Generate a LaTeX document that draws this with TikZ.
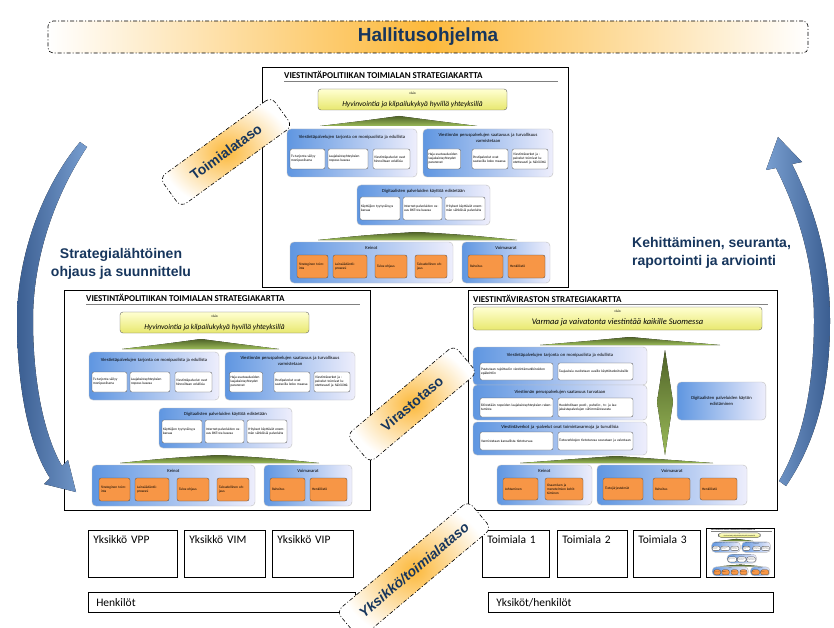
\documentclass[tikz,border=0pt]{standalone}
\usepackage{fontspec}
\setmainfont{Carlito}
\newfontfamily\arialfont{Liberation Sans}
\usetikzlibrary{shapes,arrows,positioning,fit,backgrounds}

\definecolor{tummasininen}{RGB}{23,54,93}
\definecolor{hehku}{RGB}{252,185,60}
\definecolor{oranssi}{RGB}{247,150,70}
\definecolor{keltainen}{RGB}{232,232,110}
\definecolor{vaaleankeltainen}{RGB}{255,255,210}
\definecolor{paneelisininen}{RGB}{95,150,225}
\definecolor{vaaleasininen}{RGB}{238,238,252}
\definecolor{oliivi}{RGB}{79,98,40}
\definecolor{vaaleaoliivi}{RGB}{155,187,89}
\definecolor{nuolitumma}{RGB}{59,94,145}
\definecolor{nuolivaalea}{RGB}{120,158,208}

\newcommand{\pien}{\fontsize{3.5}{4}\selectfont}
\newcommand{\keski}{\fontsize{4.6}{5.3}\selectfont}
\newcommand{\otsikkofont}{\fontsize{9}{10}\selectfont\bfseries}

% Toimialan strategiakartta nykyiseen origoon
\newcommand{\toimialakartta}[1]{%
  % Kehys ja otsikko
  \node[kehys, minimum width=306pt, minimum height=220pt] (#1_kehys) at (153,110) {};
  \node[otsikko] (#1_otsikko) at (22,8) {VIESTINTÄPOLITIIKAN TOIMIALAN STRATEGIAKARTTA};
  \coordinate (#1_viiva_a) at (22,14);
  \coordinate (#1_viiva_b) at (296,14);
  \draw[viiva] (#1_viiva_a) -- (#1_viiva_b);
  % Visio
  \node[visio, minimum width=189pt, minimum height=21pt] (#1_visio) at (150.5,32.5)
    {{\pien visio}\\{\fontsize{7.5}{8.5}\selectfont\itshape Hyvinvointia ja kilpailukykyä hyvillä yhteyksillä}};
  \fill[kolmio] (58,59) .. controls (100,54) .. (137,49) .. controls (175,54) .. (215,59) -- cycle;
  % Tavoitteet
  \node[paneeli, minimum width=130pt, minimum height=48pt] (#1_tarjonta) at (90,86) {};
  \node[paneeliotsikko] (#1_tarjonta_otsikko) at (90,70) {Viestintäpalvelujen tarjonta on monipuolista ja edullista};
  \node[ala, minimum height=20pt, text width=33pt] (#1_tv) at (45.5,92) {Tv-tarjonta säilyy monipuolisena};
  \node[ala, minimum height=20pt, text width=38pt] (#1_nopeus) at (86,92) {Laajakaistayhteyksien nopeus kasvaa};
  \node[ala, minimum height=20pt, text width=35pt] (#1_hinnat) at (129.5,92) {Viestintäpalvelut ovat hinnoiltaan edullisia};
  \node[paneeli, minimum width=130pt, minimum height=48pt] (#1_saatavuus) at (226,86) {};
  \node[paneeliotsikko, text width=128pt] (#1_saatavuus_otsikko) at (226,71) {Viestinnän peruspalvelujen saatavuus ja turvallisuus\\varmistetaan};
  \node[ala, minimum height=20pt, text width=31pt] (#1_haja) at (182,92) {Haja-asutusalueiden laajakaistayhteydet paranevat};
  \node[ala, minimum height=20pt, text width=34pt] (#1_posti) at (228,92) {Postipalvelut ovat saatavilla koko maassa};
  \node[ala, minimum height=20pt, text width=34pt] (#1_verkot) at (268,92) {Viestintäverkot ja -palvelut toimivat luotettavasti ja häiriöittä};
  \node[paneeli, minimum width=133pt, minimum height=40pt] (#1_digi) at (161.5,138) {};
  \node[paneeliotsikko] (#1_digi_otsikko) at (161.5,124) {Digitaalisten palveluiden käyttöä edistetään};
  \node[ala, minimum height=23pt, text width=38pt] (#1_kayttajat) at (118,141.5) {Käyttäjien tyytyväisyys kasvaa};
  \node[ala, minimum height=23pt, text width=37pt] (#1_internet) at (160.5,141.5) {Internet-palveluiden osuus BKT:sta kasvaa};
  \node[ala, minimum height=23pt, text width=38pt] (#1_yritykset) at (203,141.5) {Yritykset käyttävät enemmän sähköisiä palveluita};
  \fill[kolmio] (56,173) .. controls (105,168) .. (155,165) .. controls (205,168) .. (255,173) -- cycle;
  % Keinot ja voimavarat
  \node[paneeli, minimum width=163pt, minimum height=41pt] (#1_keinot) at (109.5,195.5) {};
  \node[paneeliotsikko] (#1_keinot_otsikko) at (109.5,181) {Keinot};
  \node[keino, minimum height=23pt, text width=27pt] (#1_strateginen) at (50.5,199.5) {Strateginen toiminta};
  \node[keino, minimum height=23pt, text width=30pt] (#1_laki) at (88,199.5) {Lainsäädäntö-prosessi};
  \node[keino, minimum height=23pt, text width=28pt] (#1_tulos) at (129,199.5) {Tulos-ohjaus};
  \node[keino, minimum height=23pt, text width=28pt] (#1_talous) at (169,199.5) {Taloudellinen ohjaus};
  \node[paneeli, minimum width=88pt, minimum height=41pt] (#1_voimavarat) at (244,195.5) {};
  \node[paneeliotsikko] (#1_voimavarat_otsikko) at (244,181) {Voimavarat};
  \node[keino, minimum height=23pt, text width=31pt] (#1_rahoitus) at (223.5,199.5) {Rahoitus};
  \node[keino, minimum height=23pt, text width=33pt] (#1_henkilosto) at (264.5,199.5) {Henkilöstö};
}

\begin{document}
\begin{tikzpicture}[
    x=1pt, y=-1pt,
    kehys/.style={draw=black, fill=white, line width=0.6pt},
    otsikko/.style={anchor=west, inner sep=0pt, font=\otsikkofont},
    viiva/.style={draw=gray, line width=0.4pt},
    visio/.style={draw=black!60, rounded corners=3pt, top color=vaaleankeltainen, bottom color=keltainen, align=center, inner sep=1pt},
    kolmio/.style={top color=oliivi, bottom color=vaaleaoliivi},
    paneeli/.style={draw=gray!50, rounded corners=4pt, left color=paneelisininen, right color=vaaleasininen},
    paneeliotsikko/.style={font=\keski, align=center, text width=125pt, inner sep=0pt},
    ala/.style={draw=gray!60!black, fill=white, rounded corners=2pt, line width=0.3pt, align=left, inner xsep=1pt, inner ysep=1pt, font=\pien},
    keino/.style={draw=gray!60!black, fill=oranssi, rounded corners=2pt, line width=0.3pt, align=left, inner xsep=2pt, inner ysep=1pt, font=\pien},
    taso/.style={draw=black, line width=0.6pt, dash pattern=on 4pt off 2pt on 1pt off 2pt, rounded corners=7pt, inner color=hehku, outer color=white, minimum height=36pt, text=tummasininen, font=\arialfont\bfseries\fontsize{14}{16}\selectfont},
    hallitus/.style={draw=black, line width=0.6pt, dash pattern=on 4pt off 2pt on 1pt off 2pt, rounded corners=5pt, left color=white, right color=white, middle color=hehku, text=tummasininen, font=\arialfont\bfseries\fontsize{19}{22}\selectfont},
    sivuteksti/.style={text=tummasininen, font=\arialfont\bfseries\fontsize{14}{18}\selectfont, inner sep=0pt},
    iso nuoli/.style={left color=nuolitumma, right color=nuolivaalea},
    yksikko/.style={draw=black, line width=0.6pt, anchor=north west, align=left, inner xsep=5pt, inner ysep=4pt, text height=9pt, text depth=30pt, font=\fontsize{11.5}{14}\selectfont},
    rivi/.style={draw=black, line width=0.6pt, anchor=north west, align=left, inner xsep=8pt, minimum height=20pt, font=\fontsize{11.5}{14}\selectfont}
]
\path[use as bounding box, fill=white] (0,0) rectangle (834,628);

% Hallitusohjelma
\node[hallitus, minimum width=760pt, minimum height=32pt] (hallitus) at (428,37) {Hallitusohjelma};

% Toimialan kartta
\begin{scope}[shift={(262,67)}]
  \toimialakartta{toimiala}
\end{scope}

% Toimialan kartta viraston tasolla
\begin{scope}[shift={(64,290)}]
  \toimialakartta{vasen}
\end{scope}

% Viraston kartta
\begin{scope}[shift={(468,290)}]
  \node[kehys, line width=1pt, minimum width=309pt, minimum height=220pt] (vir_kehys) at (154.5,110) {};
  \node[otsikko] (vir_otsikko) at (5,9) {VIESTINTÄVIRASTON STRATEGIAKARTTA};
  \coordinate (vir_viiva_a) at (5,14);
  \coordinate (vir_viiva_b) at (300,14);
  \draw[viiva] (vir_viiva_a) -- (vir_viiva_b);
  \node[visio, minimum width=289pt, minimum height=23pt] (vir_visio) at (149.5,28.5)
    {{\pien visio}\\{\fontsize{8.5}{9.5}\selectfont\itshape Varmaa ja vaivatonta viestintää kaikille Suomessa}};
  \fill[kolmio] (72,55) .. controls (120,51) .. (162,47) .. controls (205,51) .. (252,55) -- cycle;
  % Tavoitteet
  \node[paneeli, minimum width=174pt, minimum height=38pt] (vir_tarjonta) at (92,76) {};
  \node[paneeliotsikko, text width=170pt] (vir_tarjonta_otsikko) at (92,65) {Viestintäpalvelujen tarjonta on monipuolista ja edullista};
  \node[ala, minimum height=17pt, text width=71pt] (vir_markkinat) at (48.5,81.5) {Puututaan rajoittaviin viestintämarkkinoiden epäkohtiin};
  \node[ala, minimum height=17pt, text width=73pt] (vir_taajuudet) at (127.5,81.5) {Taajuuksia osoitetaan uusille käyttötarkoituksille};
  \node[paneeli, minimum width=174pt, minimum height=35pt] (vir_saatavuus) at (92,112.5) {};
  \node[paneeliotsikko, text width=170pt] (vir_saatavuus_otsikko) at (92,102) {Viestinnän peruspalvelujen saatavuus turvataan};
  \node[ala, minimum height=19pt, text width=71pt] (vir_laajakaista) at (48.5,117.5) {Edistetään nopeiden laajakaistayhteyksien rakentamista};
  \node[ala, minimum height=19pt, text width=73pt] (vir_vahimmais) at (127.5,117.5) {Huolehditaan posti-, puhelin-, tv- ja laajakaistapalvelujen vähimmäistasosta};
  \node[paneeli, minimum width=174pt, minimum height=33pt] (vir_turvallisuus) at (92,148.5) {};
  \node[paneeliotsikko, text width=170pt] (vir_turvallisuus_otsikko) at (92,137) {Viestintäverkot ja -palvelut ovat toimintavarmoja ja turvallisia};
  \node[ala, minimum height=18pt, text width=71pt] (vir_tietoturva) at (48.5,151) {Varmistetaan kansallista tietoturvaa};
  \node[ala, minimum height=18pt, text width=73pt] (vir_valvonta) at (127.5,151) {Tietoverkkojen tietoturvaa seurataan ja valvotaan};
  \fill[kolmio] (197,60) -- (205,112) -- (197,165) -- (189,112) -- cycle;
  \node[paneeli, minimum width=87pt, minimum height=38pt, text width=82pt, align=center, font=\keski] (vir_digi) at (253.5,111) {Digitaalisten palveluiden käytön\\edistäminen};
  \fill[kolmio] (52,173) .. controls (100,169) .. (148,166) .. controls (197,169) .. (245,173) -- cycle;
  % Keinot ja voimavarat
  \node[paneeli, minimum width=95pt, minimum height=40pt] (vir_keinot) at (76.5,195) {};
  \node[paneeliotsikko] (vir_keinot_otsikko) at (76.5,181) {Keinot};
  \node[keino, minimum height=22pt, text width=31pt] (vir_johtaminen) at (52.5,199) {Johtaminen};
  \node[keino, minimum height=22pt, text width=34pt] (vir_osaaminen) at (96,199) {Osaamisen ja menetelmien kehittäminen};
  \node[paneeli, minimum width=150pt, minimum height=40pt] (vir_voimavarat) at (204,195) {};
  \node[paneeliotsikko] (vir_voimavarat_otsikko) at (204,181) {Voimavarat};
  \node[keino, minimum height=22pt, text width=36pt] (vir_jarjestelmat) at (155,199) {Tietojärjestelmät};
  \node[keino, minimum height=22pt, text width=33pt] (vir_rahoitus) at (203.5,199) {Rahoitus};
  \node[keino, minimum height=22pt, text width=33pt] (vir_henkilosto) at (250.5,199) {Henkilöstö};
\end{scope}

% Nuolet
\fill[iso nuoli] (80,142) .. controls (40,190) and (17,260) .. (17,320)
  .. controls (17,390) and (30,448) .. (50,478) -- (44,484) -- (76,492) -- (68,460) -- (62,466)
  .. controls (45,437) and (33,385) .. (33,320) .. controls (33,262) and (52,200) .. (87,147) -- cycle;
\fill[iso nuoli, left color=nuolivaalea, right color=nuolitumma] (786,486) .. controls (812,448) and (830,398) .. (830,320)
  .. controls (830,258) and (814,208) .. (792,164) -- (802,162) -- (778,137) -- (766,170) -- (776,168)
  .. controls (798,212) and (814,262) .. (814,320) .. controls (814,395) and (800,445) .. (779,481) -- cycle;
\node[sivuteksti, align=center] (ohjaus) at (121,264) {Strategialähtöinen\\ohjaus ja suunnittelu};
\node[sivuteksti, align=left, anchor=west] (kehitys) at (632,253) {Kehittäminen, seuranta,\\raportointi ja arviointi};

% Yksikot ja toimialat
\node[yksikko, text width=79pt] (vpp) at (88,530) {Yksikkö VPP};
\node[yksikko, text width=71pt] (vim) at (184,530) {Yksikkö VIM};
\node[yksikko, text width=71pt] (vip) at (272,530) {Yksikkö VIP};
\node[rivi, text width=251pt] (henkilot) at (88,592) {Henkilöt};
\node[yksikko, text width=57pt] (toimiala1) at (482,530) {Toimiala 1};
\node[yksikko, text width=60pt] (toimiala2) at (557,530) {Toimiala 2};
\node[yksikko, text width=57pt] (toimiala3) at (633,530) {Toimiala 3};
\begin{scope}[shift={(706,528)}, scale=0.222, transform shape]
  \toimialakartta{pieni}
\end{scope}
\node[rivi, text width=269pt] (yksikot) at (488,592) {Yksiköt/henkilöt};

% Tasot
\node[taso, rotate=36, minimum width=138pt] (toimialataso) at (226,152) {Toimialataso};
\node[taso, rotate=40, minimum width=140pt] (virastotaso) at (412,404) {Virastotaso};
\node[taso, rotate=40, minimum width=172pt, font=\arialfont\bfseries\itshape\fontsize{14}{16}\selectfont] (yksikkotaso) at (414,570) {Yksikkö/toimialataso};

\end{tikzpicture}
\end{document}
